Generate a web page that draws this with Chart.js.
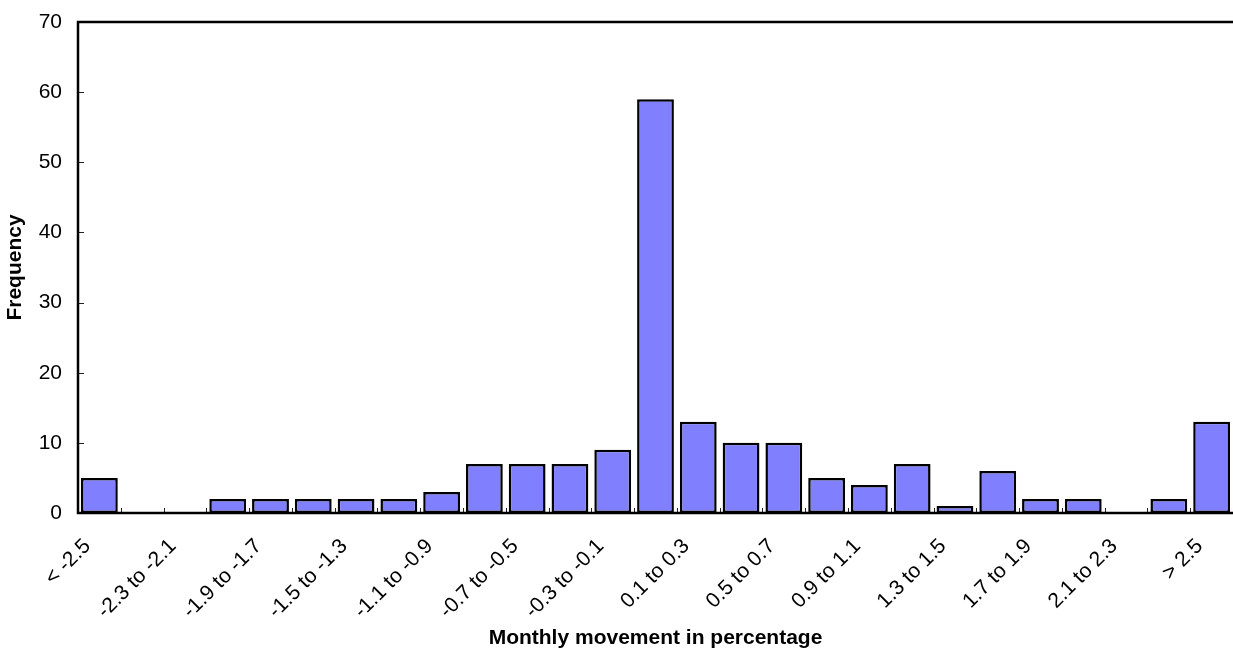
<!DOCTYPE html>
<html>
<head>
<meta charset="utf-8">
<script src="https://cdn.jsdelivr.net/npm/chart.js@4/dist/chart.umd.min.js"></script>
<style>
  html, body { margin: 0; padding: 0; background: #fff; }
  canvas { display: block; }
</style>
</head>
<body>
<canvas id="hist" width="1233" height="651"></canvas>
<script>
// Bins of monthly movement (percent) and how many months fell in each
const categories = [
  '< -2.5', '-2.5 to -2.3', '-2.3 to -2.1', '-2.1 to -1.9', '-1.9 to -1.7',
  '-1.7 to -1.5', '-1.5 to -1.3', '-1.3 to -1.1', '-1.1 to -0.9', '-0.9 to -0.7',
  '-0.7 to -0.5', '-0.5 to -0.3', '-0.3 to -0.1', '-0.1 to 0.1', '0.1 to 0.3',
  '0.3 to 0.5', '0.5 to 0.7', '0.7 to 0.9', '0.9 to 1.1', '1.1 to 1.3',
  '1.3 to 1.5', '1.5 to 1.7', '1.7 to 1.9', '1.9 to 2.1', '2.1 to 2.3',
  '2.3 to 2.5', '> 2.5'
];
const frequency = [5, 0, 0, 2, 2, 2, 2, 2, 3, 7, 7, 7, 9, 59, 13, 10, 10, 5, 4, 7, 1, 6, 2, 2, 0, 2, 13];
const yTicks = [0, 10, 20, 30, 40, 50, 60, 70];

const FONT = '"Liberation Sans", Arial, sans-serif';

// Short inward tick marks plus a frame around the plot area
const frameAndTicks = {
  id: 'frameAndTicks',
  beforeDatasetsDraw(chart) {
    const { ctx, chartArea: a, scales: { x, y } } = chart;
    ctx.save();
    ctx.strokeStyle = '#222';
    ctx.lineWidth = 1;
    ctx.beginPath();
    for (let i = 0; i < categories.length - 1; i++) {
      const bx = Math.round((x.getPixelForValue(i) + x.getPixelForValue(i + 1)) / 2) + 0.5;
      ctx.moveTo(bx, a.bottom);
      ctx.lineTo(bx, a.bottom - 5);
    }
    yTicks.forEach(v => {
      const py = Math.round(y.getPixelForValue(v)) + 0.5;
      ctx.moveTo(a.left, py);
      ctx.lineTo(a.left + 6, py);
    });
    ctx.stroke();
    ctx.restore();
  },
  afterDatasetsDraw(chart) {
    const { ctx, chartArea: a } = chart;
    ctx.save();
    ctx.strokeStyle = '#000';
    ctx.lineWidth = 2.5;
    ctx.strokeRect(a.left, a.top, a.right - a.left + 6, a.bottom - a.top);
    ctx.restore();
  }
};

new Chart(document.getElementById('hist'), {
  type: 'bar',
  data: {
    labels: categories,
    datasets: [{
      data: frequency,
      backgroundColor: '#8080FF',
      borderColor: '#000',
      borderWidth: 2.5,
      borderSkipped: false,
      categoryPercentage: 1,
      barPercentage: 0.86
    }]
  },
  options: {
    responsive: false,
    animation: false,
    layout: { padding: { top: 22, right: 0, left: 0, bottom: 0 } },
    plugins: {
      legend: { display: false },
      tooltip: { enabled: false }
    },
    scales: {
      x: {
        grid: { display: false, drawTicks: false },
        border: { display: false },
        afterFit: s => { s.height = 138; s.paddingLeft = 0; s.paddingRight = 0; },
        ticks: {
          autoSkip: false,
          minRotation: 45,
          maxRotation: 45,
          padding: 21,
          labelOffset: -12,
          color: '#000',
          font: { family: FONT, size: 21 },
          callback: (v, i) => (i % 2 === 0 ? categories[i] : '')
        },
        title: {
          display: true,
          text: 'Monthly movement in percentage',
          color: '#000',
          font: { family: FONT, size: 21, weight: 'bold' },
          padding: { top: 0, bottom: 0 }
        }
      },
      y: {
        min: 0,
        max: 70,
        grid: { display: false, drawTicks: false },
        border: { display: false },
        afterBuildTicks: scale => { scale.ticks = yTicks.map(v => ({ value: v })); },
        afterFit: s => { s.width = 78; s.paddingTop = 0; s.paddingBottom = 0; },
        ticks: {
          padding: 16,
          color: '#000',
          font: { family: FONT, size: 21 }
        },
        title: {
          display: true,
          text: 'Frequency',
          color: '#000',
          font: { family: FONT, size: 21, weight: 'bold' },
          padding: { top: 3, bottom: 0 }
        }
      }
    }
  },
  plugins: [frameAndTicks]
});
</script>
</body>
</html>
